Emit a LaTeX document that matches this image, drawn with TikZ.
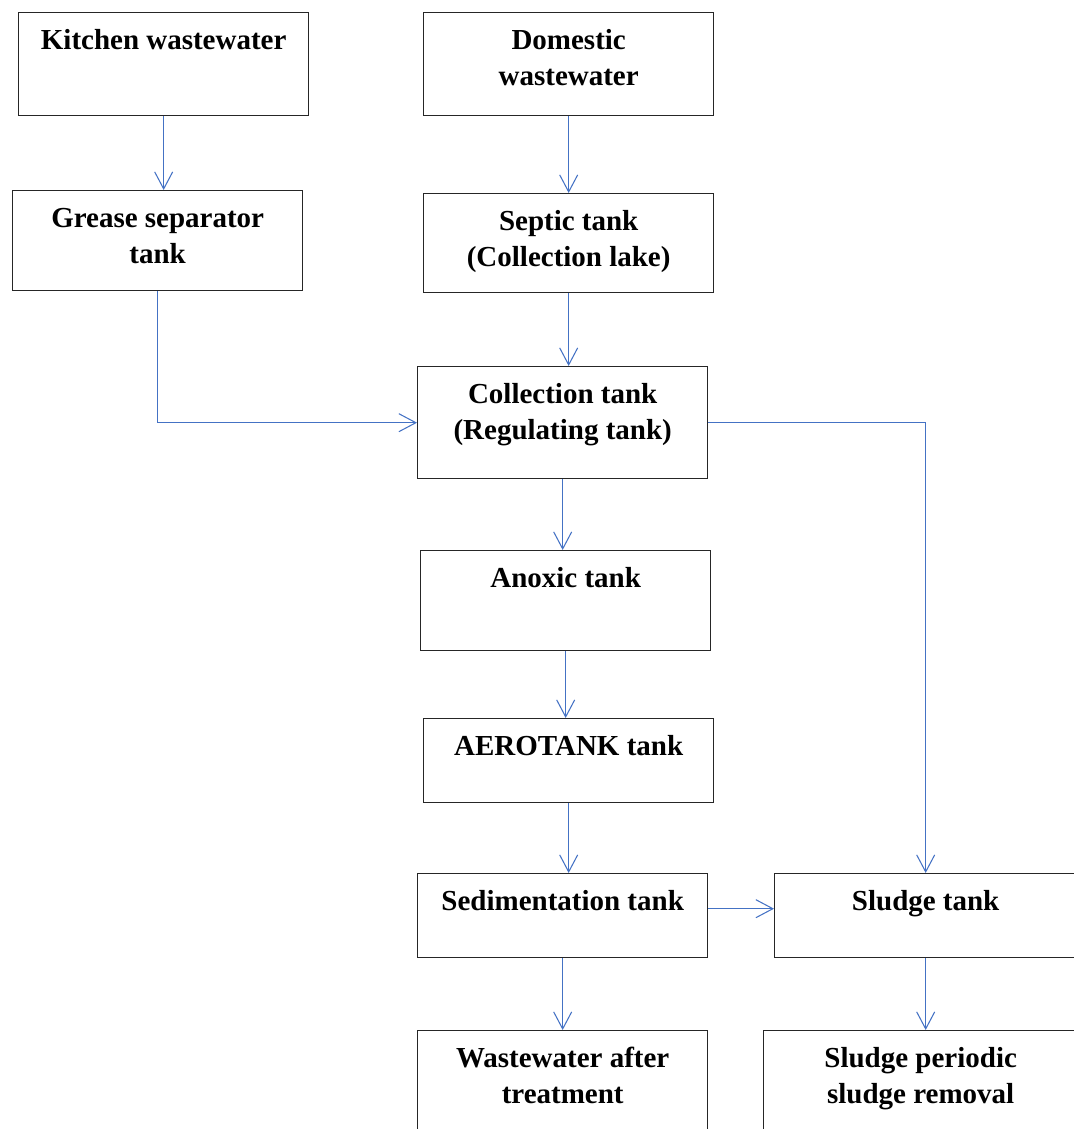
\documentclass[tikz,border=0pt]{standalone}
\usepackage{fontspec}
\setmainfont{Liberation Serif}
\usetikzlibrary{arrows.meta}
\definecolor{flowblue}{RGB}{68,114,196}
\newcommand{\tanktext}[2]{\parbox[c][#1][t]{5.8cm}{\centering\rule{0pt}{0.74cm}#2}}

\begin{document}
\begin{tikzpicture}[x=0.02cm, y=-0.02cm]
        % box and arrow styles
        \tikzstyle{tank} = [rectangle, draw=black!85, line width=0.8pt, inner sep=0pt, anchor=north west, font=\fontsize{16.5pt}{20.5pt}\selectfont\bfseries]
        \tikzstyle{flow} = [draw=flowblue, line width=0.6pt, -{Straight Barb[length=0.34cm, width=0.36cm]}]

        \useasboundingbox (0,0) rectangle (1074,1129);
        \clip (0,0) rectangle (1074,1129);

        % inputs
        \node (kitchen) [tank] at (18,12) {\tanktext{2.06cm}{Kitchen wastewater}};
        \node (domestic) [tank] at (423,12) {\tanktext{2.06cm}{Domestic\\wastewater}};

        % pre-treatment
        \node (grease) [tank] at (12,190) {\tanktext{2.0cm}{Grease separator\\tank}};
        \node (septic) [tank] at (423,193) {\tanktext{1.98cm}{Septic tank\\(Collection lake)}};

        % main line
        \node (collection) [tank] at (417,366) {\tanktext{2.24cm}{Collection tank\\(Regulating tank)}};
        \node (anoxic) [tank] at (420,550) {\tanktext{2.0cm}{Anoxic tank}};
        \node (aerotank) [tank] at (423,718) {\tanktext{1.68cm}{AEROTANK tank}};
        \node (sedimentation) [tank] at (417,873) {\tanktext{1.68cm}{Sedimentation tank}};
        \node (treated) [tank] at (417,1030) {\tanktext{2.3cm}{Wastewater after\\treatment}};

        % sludge line
        \node (sludge) [tank, minimum width=6.04cm] at (774,873) {\tanktext{1.68cm}{Sludge tank}};
        \node (removal) [tank, minimum width=6.28cm] at (763,1030) {\tanktext{2.3cm}{Sludge periodic\\sludge removal}};

        % arrows
        \draw [flow] (kitchen.south) -- (kitchen.south |- grease.north);
        \draw [flow] (domestic.south) -- (domestic.south |- septic.north);
        \draw [flow] (septic.south) -- (septic.south |- collection.north);
        \draw [flow] (grease.south) |- (collection.west);
        \draw [flow] (collection.east) -| (sludge.north);
        \draw [flow] (collection.south) -- (collection.south |- anoxic.north);
        \draw [flow] (anoxic.south) -- (anoxic.south |- aerotank.north);
        \draw [flow] (aerotank.south) -- (aerotank.south |- sedimentation.north);
        \draw [flow] ([yshift=0.14cm]sedimentation.east) -- ([yshift=0.14cm]sludge.west);
        \draw [flow] (sedimentation.south) -- (sedimentation.south |- treated.north);
        \draw [flow] (sludge.south) -- (sludge.south |- removal.north);

    \end{tikzpicture}
\end{document}
